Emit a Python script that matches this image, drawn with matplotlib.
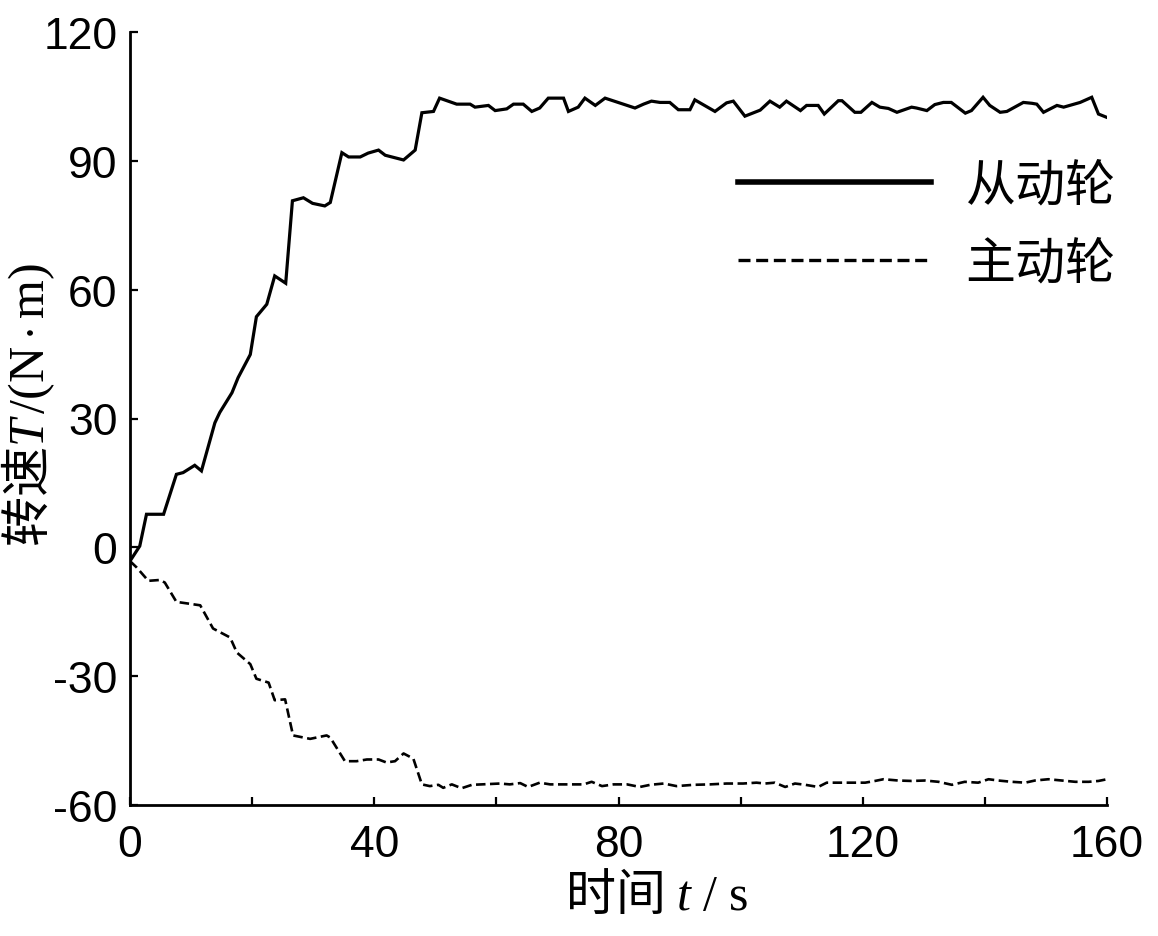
import matplotlib
matplotlib.use("Agg")
import matplotlib.pyplot as plt
from matplotlib.ticker import MultipleLocator

# ---- data ----
t_driven = [0, 1.6, 2.7, 5.5, 7.6, 8.7, 10.6, 11.7, 13.9, 14.7, 16.7, 17.7, 19.7, 20.7, 22.4,
            23.7, 25.5, 26.6, 28.4, 29.9, 31.9, 32.8, 34.7, 35.8, 37.7, 39.0, 40.7, 41.8, 44.8,
            46.7, 47.8, 49.7, 50.7, 53.5, 55.7, 56.5, 58.7, 59.8, 61.7, 62.8, 64.4, 65.8, 67.1,
            68.5, 71.0, 71.8, 73.4, 74.5, 76.2, 77.8, 82.7, 84.1, 85.4, 86.8, 88.4, 89.8, 91.7,
            92.5, 95.8, 97.7, 98.8, 100.7, 103.2, 104.8, 106.4, 107.5, 109.8, 110.8, 112.7,
            113.7, 116.0, 116.6, 118.7, 119.7, 121.5, 122.8, 124.2, 125.6, 128.0, 128.8, 130.5,
            131.8, 133.2, 134.5, 136.8, 137.8, 139.7, 140.8, 142.5, 143.6, 146.3, 147.7, 148.5,
            149.6, 151.8, 152.9, 155.6, 157.5, 158.6, 160.0]
T_driven = [-3.2, 0.3, 7.7, 7.7, 17.0, 17.4, 19.1, 17.8, 29.0, 31.4, 36.0, 39.5, 44.9, 53.7, 56.6,
            63.2, 61.5, 80.7, 81.4, 80.1, 79.5, 80.3, 91.9, 90.9, 90.9, 91.8, 92.5, 91.3, 90.2,
            92.5, 101.2, 101.5, 104.6, 103.2, 103.2, 102.5, 102.9, 101.7, 102.1, 103.2, 103.2,
            101.5, 102.3, 104.6, 104.6, 101.5, 102.5, 104.6, 102.9, 104.6, 102.3, 103.2, 103.9,
            103.6, 103.6, 101.9, 101.9, 104.2, 101.5, 103.5, 103.9, 100.4, 101.8, 103.9, 102.5,
            103.9, 101.7, 102.9, 102.9, 100.9, 104.0, 104.0, 101.3, 101.3, 103.6, 102.5, 102.2,
            101.3, 102.5, 102.3, 101.7, 103.1, 103.6, 103.6, 101.1, 101.7, 104.8, 102.9, 101.3,
            101.5, 103.6, 103.4, 103.2, 101.3, 102.9, 102.5, 103.6, 104.8, 100.9, 100.1]

t_driving = [0, 1.1, 3.0, 4.9, 5.7, 7.6, 11.5, 13.6, 16.4, 17.5, 19.7, 20.7, 22.7, 23.7, 25.4,
             26.7, 29.5, 32.2, 32.8, 35.2, 37.1, 38.8, 40.7, 42.0, 43.4, 44.8, 46.4, 47.8, 49.1,
             50.5, 51.3, 52.7, 54.3, 56.0, 57.6, 60.6, 62.2, 63.9, 65.2, 67.1, 68.8, 71.5, 74.3,
             75.6, 77.3, 79.2, 81.4, 83.5, 85.2, 87.4, 89.5, 92.3, 95.0, 97.7, 100.4, 102.6,
             104.0, 105.6, 107.3, 108.9, 110.6, 112.7, 114.1, 116.0, 118.2, 120.4, 122.0, 123.4,
             125.8, 128.0, 130.2, 132.4, 134.6, 136.7, 138.9, 140.6, 142.2, 144.4, 146.6, 148.2,
             150.4, 152.6, 154.8, 157.0, 158.6, 160.0]
T_driving = [-3.2, -4.7, -7.8, -7.6, -8.2, -12.7, -13.5, -18.9, -21.0, -24.5, -27.2, -30.6, -31.5,
             -35.6, -35.4, -43.8, -44.6, -43.8, -44.3, -49.8, -49.8, -49.4, -49.4, -50.1, -49.8,
             -48.0, -49.2, -55.2, -55.6, -55.3, -56.0, -55.2, -56.1, -55.3, -55.2, -55.0, -55.2,
             -54.9, -55.8, -54.8, -55.2, -55.2, -55.2, -54.6, -55.6, -55.2, -55.2, -55.8, -55.3,
             -55.0, -55.6, -55.3, -55.2, -55.0, -55.0, -54.8, -55.0, -54.8, -55.8, -55.0, -55.3,
             -55.8, -54.8, -54.8, -54.8, -54.8, -54.4, -54.0, -54.3, -54.4, -54.3, -54.6, -55.3,
             -54.6, -54.8, -54.0, -54.3, -54.6, -54.8, -54.3, -54.0, -54.3, -54.6, -54.6, -54.4,
             -54.0]

series_labels = ["从动轮", "主动轮"]
x_ticks = [0, 40, 80, 120, 160]
y_ticks = [-60, -30, 0, 30, 60, 90, 120]
x_label = r"时间 $t\ /\ \mathrm{s}$"
y_label = r"转速$T\,/(\mathrm{N\cdot m})$"

# ---- style ----
plt.rcParams['axes.unicode_minus'] = False
plt.rcParams['mathtext.fontset'] = 'custom'
plt.rcParams['mathtext.rm'] = 'Liberation Serif'
plt.rcParams['mathtext.it'] = 'Liberation Serif:italic'

W, H = 1158, 937
fig = plt.figure(figsize=(W / 100, H / 100), dpi=100)
ax = fig.add_axes([130 / W, 1 - 806 / H, (1107 - 130) / W, (806 - 33) / H])

l1, = ax.plot(t_driven, T_driven, color='black', lw=2.3, solid_joinstyle='miter')
l2, = ax.plot(t_driving, T_driving, color='black', lw=1.9, linestyle=(0, (3.6, 1.7)))

ax.set_xlim(0, 160)
ax.set_ylim(-60, 120)
ax.set_xticks(x_ticks)
ax.set_yticks(y_ticks)
ax.xaxis.set_minor_locator(MultipleLocator(20))

for s in ['top', 'right']:
    ax.spines[s].set_visible(False)
for s in ['left', 'bottom']:
    ax.spines[s].set_linewidth(2.0)

ax.tick_params(which='both', direction='in', length=6, width=1.6)
ax.tick_params(axis='y', labelsize=32, pad=9)
ax.tick_params(axis='x', labelsize=32, pad=14)
for lab in ax.get_xticklabels() + ax.get_yticklabels():
    lab.set_fontfamily('Liberation Sans')

leg = ax.legend([l1, l2], series_labels, loc='upper left',
                bbox_to_anchor=(738 / W, 1 - 160 / H), bbox_transform=fig.transFigure,
                frameon=False, borderpad=0, borderaxespad=0, handlelength=3.85,
                handletextpad=0.7, labelspacing=0.52,
                prop={'family': 'Noto Sans CJK SC', 'size': 36})
for ln, lw in zip(leg.get_lines(), [4.0, 2.4]):
    ln.set_linewidth(lw)

fig.text(656 / W, 1 - 896 / H, x_label, ha='center', va='center',
         fontsize=36, family='Noto Sans CJK SC')
fig.text(28 / W, 1 - 405 / H, y_label, ha='center', va='center', rotation=90,
         fontsize=36, family='Noto Sans CJK SC')

fig.savefig('out.png', dpi=100)
